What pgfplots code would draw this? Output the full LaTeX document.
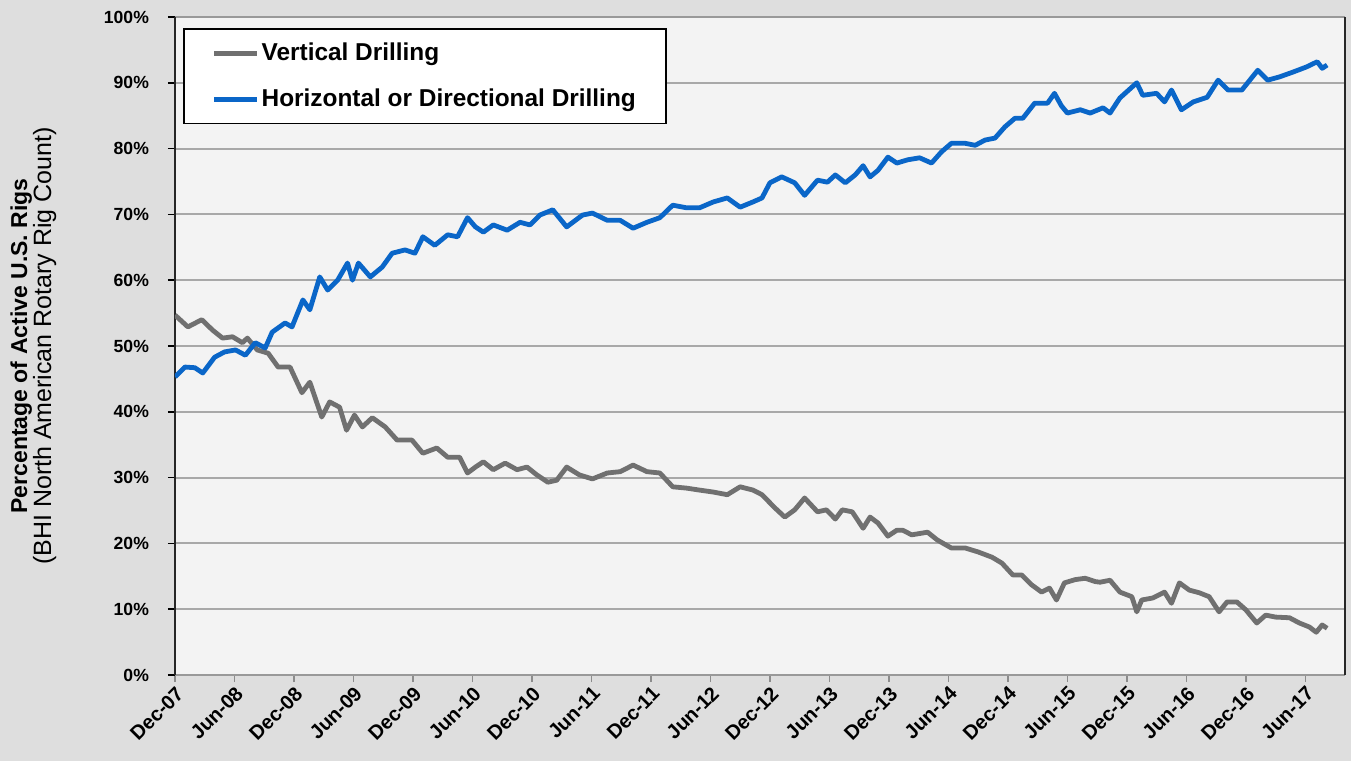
\documentclass[border=0pt]{standalone}
\usepackage{pgfplots}
\pgfplotsset{compat=1.18}
\usepackage{pgfplotstable}
\usepackage{fontspec}
\setmainfont{Liberation Sans}
\definecolor{vgray}{RGB}{112,112,112}
\definecolor{hblue}{RGB}{10,102,200}
\definecolor{bgout}{RGB}{222,222,222}
\definecolor{bgin}{RGB}{243,243,243}
\definecolor{gridc}{RGB}{168,168,168}

\pgfplotstableread{
m v
0.0 45.3
1.0 46.8
2.0 46.7
2.8 45.9
4.0 48.3
5.0 49.1
6.1 49.4
7.1 48.6
8.1 50.5
9.1 49.7
9.8 52.1
11.1 53.5
11.8 52.9
12.9 57.0
13.6 55.5
14.6 60.5
15.4 58.5
16.4 60.0
17.4 62.6
17.9 60.0
18.5 62.6
19.7 60.5
20.9 62.0
21.9 64.1
23.2 64.6
24.2 64.1
25.0 66.6
26.2 65.3
27.5 66.9
28.5 66.6
29.5 69.5
30.3 68.1
31.1 67.3
32.1 68.4
33.5 67.6
34.8 68.8
35.8 68.4
36.8 69.9
38.1 70.7
39.5 68.1
41.1 69.9
42.1 70.2
43.6 69.1
44.9 69.1
46.2 67.9
47.6 68.8
48.9 69.5
50.2 71.4
51.6 71.0
52.9 71.0
54.3 71.9
55.7 72.5
57.0 71.1
58.3 71.9
59.2 72.5
60.0 74.8
61.2 75.7
62.5 74.8
63.5 72.9
64.8 75.2
65.8 74.9
66.6 76.0
67.6 74.8
68.6 76.0
69.4 77.4
70.1 75.7
70.9 76.7
71.9 78.7
72.8 77.8
73.9 78.3
75.1 78.6
76.3 77.8
77.3 79.5
78.3 80.8
79.7 80.8
80.7 80.5
81.7 81.3
82.7 81.6
83.7 83.3
84.7 84.6
85.5 84.6
86.7 86.9
88.0 86.9
88.7 88.4
89.4 86.5
90.0 85.4
91.3 85.9
92.3 85.4
93.6 86.2
94.3 85.4
95.3 87.7
97.0 90.0
97.6 88.1
99.0 88.4
99.8 87.1
100.5 88.9
101.5 85.9
102.7 87.1
104.1 87.8
105.2 90.4
106.2 88.9
107.6 88.9
108.4 90.4
109.2 91.9
110.2 90.4
111.4 90.9
112.7 91.6
114.1 92.4
115.2 93.2
115.7 92.2
116.2 92.7
}\horizontal

\pgfplotstableread{
m v
0.0 54.7
1.3 52.9
2.7 54.0
3.8 52.4
4.8 51.2
5.8 51.4
6.8 50.5
7.3 51.2
8.3 49.4
9.4 48.9
10.4 46.8
11.6 46.8
12.8 42.9
13.6 44.5
14.8 39.2
15.6 41.5
16.6 40.7
17.3 37.2
18.1 39.5
18.9 37.7
19.9 39.1
21.2 37.7
22.4 35.7
23.9 35.7
25.0 33.7
26.4 34.5
27.5 33.1
28.7 33.1
29.5 30.7
30.3 31.6
31.1 32.4
32.1 31.2
33.3 32.2
34.5 31.2
35.5 31.6
36.5 30.4
37.6 29.3
38.5 29.6
39.5 31.6
40.8 30.4
42.1 29.8
43.6 30.7
44.9 30.9
46.2 31.9
47.6 30.9
48.9 30.7
50.2 28.6
51.6 28.4
52.9 28.1
54.3 27.8
55.7 27.4
57.0 28.6
58.3 28.1
59.2 27.4
60.5 25.4
61.5 24.0
62.5 25.1
63.5 26.9
64.8 24.8
65.7 25.1
66.6 23.7
67.3 25.1
68.3 24.8
69.4 22.3
70.1 24.0
70.9 23.1
71.9 21.1
72.8 22.0
73.4 22.0
74.3 21.3
75.9 21.7
76.9 20.5
78.3 19.3
79.7 19.3
81.0 18.7
82.4 17.9
83.4 17.0
84.5 15.2
85.4 15.2
86.4 13.7
87.4 12.6
88.2 13.2
88.9 11.4
89.7 14.0
90.8 14.5
91.8 14.7
92.8 14.2
93.3 14.1
94.3 14.4
95.3 12.6
96.5 11.9
97.0 9.6
97.5 11.4
98.6 11.7
99.8 12.6
100.5 10.9
101.3 14.0
102.3 12.9
103.3 12.5
104.3 11.9
105.3 9.6
106.1 11.1
107.1 11.1
108.0 9.9
109.1 7.9
110.0 9.1
111.0 8.8
112.4 8.7
113.4 7.9
114.4 7.3
115.1 6.5
115.7 7.6
116.2 7.1
}\vertical

\begin{document}
\begin{tikzpicture}
\fill[bgout] (0,0) rectangle (675.5pt,380.5pt);
\useasboundingbox (0,0) rectangle (675.5pt,380.5pt);
\begin{axis}[
  at={(87.5pt,43pt)}, anchor=south west,
  scale only axis, width=585pt, height=329pt,
  xmin=0, xmax=118, ymin=0, ymax=100,
  axis background/.style={fill=bgin},
  separate axis lines,
  x axis line style={color=black!40, line width=1.2pt},
  y axis line style={color=black!85, line width=1pt},
  xtick={0,6,...,114},
  xticklabels={Dec-07,Jun-08,Dec-08,Jun-09,Dec-09,Jun-10,Dec-10,Jun-11,Dec-11,Jun-12,Dec-12,Jun-13,Dec-13,Jun-14,Dec-14,Jun-15,Dec-15,Jun-16,Dec-16,Jun-17},
  ytick={0,10,...,100},
  yticklabels={0\%,10\%,20\%,30\%,40\%,50\%,60\%,70\%,80\%,90\%,100\%},
  tick align=outside, major tick length=3.5pt,
  x tick style={color=black!45, line width=0.8pt},
  y tick style={color=black, line width=0.8pt},
  xtick pos=bottom, ytick pos=left,
  xticklabel style={rotate=45, anchor=north east, inner sep=1pt, font=\bfseries\fontsize{10}{11}\selectfont},
  yticklabel style={font=\bfseries\fontsize{8.8}{10}\selectfont, xshift=-6pt},
  ymajorgrids, grid style={color=gridc, line width=1pt},
  ylabel={\bfseries\fontsize{11.5}{13.5}\selectfont Percentage of Active U.S. Rigs\\\fontsize{12.5}{13.5}\selectfont (BHI North American Rotary Rig Count)},
  ylabel style={at={(axis description cs:-0.121,0.5)}, anchor=center, align=center},
  legend style={at={(0.0068,0.983)}, anchor=north west, draw=black, line width=0.9pt, fill=white,
    font=\bfseries\fontsize{12.2}{14}\selectfont, inner xsep=14pt, inner ysep=5pt, row sep=8.5pt,
    nodes={inner xsep=1pt, inner ysep=2pt}},
  legend cell align=left,
  legend image code/.code={\draw[#1] (0pt,0pt) -- (21.5pt,0pt);},
]
\addplot[color=vgray, line width=2.4pt, line join=round] table[x=m, y=v] {\vertical};
\addlegendentry{Vertical Drilling}
\addplot[color=hblue, line width=2.4pt, line join=round] table[x=m, y=v] {\horizontal};
\addlegendentry{Horizontal or Directional Drilling}
\end{axis}
\end{tikzpicture}
\end{document}
